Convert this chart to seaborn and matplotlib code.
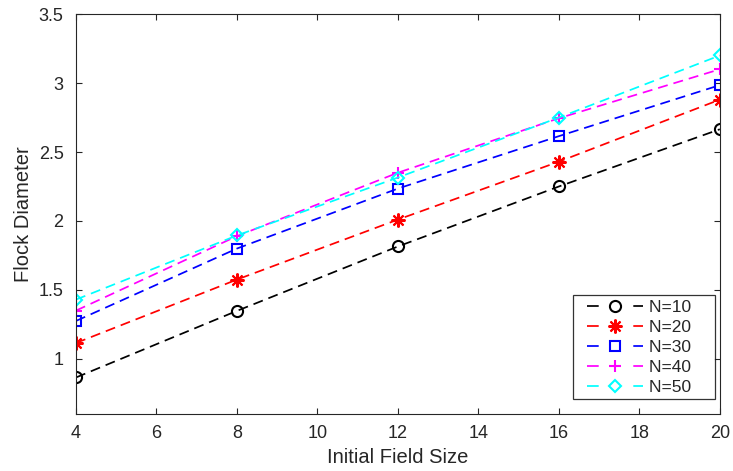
import matplotlib
matplotlib.use("Agg")
import matplotlib.pyplot as plt
from matplotlib.lines import Line2D
from matplotlib.legend_handler import HandlerLine2D
import seaborn as sns
import pandas as pd

field_size = [4, 8, 12, 16, 20]
n10 = [0.865, 1.348, 1.815, 2.25, 2.665]
n20 = [1.115, 1.575, 2.01, 2.43, 2.88]
n30 = [1.275, 1.80, 2.235, 2.615, 2.985]
n40 = [1.35, 1.89, 2.35, 2.745, 3.10]
n50 = [1.43, 1.895, 2.315, 2.75, 3.20]
labels = ["N=10", "N=20", "N=30", "N=40", "N=50"]
series = [n10, n20, n30, n40, n50]
colors = ["#000000", "#ff0000", "#0000ff", "#ff00ff", "#00ffff"]
markers = ["o", (8, 2, 0), "s", "+", "D"]
msizes = [8, 10, 6.5, 9, 6.3]

rows = []
for lab, vals in zip(labels, series):
    for x, y in zip(field_size, vals):
        rows.append({"Initial Field Size": x, "Flock Diameter": y, "N": lab})
df = pd.DataFrame(rows)

sns.set_style("white")
plt.rcParams["font.family"] = ["Liberation Sans", "DejaVu Sans"]

fig = plt.figure(figsize=(7.33, 4.71), dpi=100)
ax = fig.add_axes([0.1037, 0.121, 0.8783, 0.849])

LW = 1.25
lw_px = LW * 100 / 72
dash = (0, (10.0 / lw_px, 6.0 / lw_px))
for lab, c, m, ms in zip(labels, colors, markers, msizes):
    sub = df[df["N"] == lab]
    sns.lineplot(data=sub, x="Initial Field Size", y="Flock Diameter", ax=ax,
                 color=c, marker=m, markersize=ms, markerfacecolor="none",
                 markeredgecolor=c, markeredgewidth=1.5, linewidth=LW,
                 linestyle=dash, legend=False)

ax.set_xlim(4, 20)
ax.set_ylim(0.6, 3.5)
ax.set_xticks([4, 6, 8, 10, 12, 14, 16, 18, 20])
ax.set_yticks([1, 1.5, 2, 2.5, 3, 3.5])
ax.set_yticklabels(["1", "1.5", "2", "2.5", "3", "3.5"])
ax.set_xlabel("Initial Field Size", fontsize=14.5, color="#262626", labelpad=4)
ax.set_ylabel("Flock Diameter", fontsize=14.5, color="#262626", labelpad=4)
ax.tick_params(direction="in", length=4, width=0.8, colors="#262626",
               labelsize=13, top=True, right=True, bottom=True, left=True,
               labeltop=False, labelright=False)
ax.tick_params(axis="y", pad=9)
ax.tick_params(axis="x", pad=8)
for s in ax.spines.values():
    s.set_visible(True)
    s.set_color("#262626")
    s.set_linewidth(0.8)


class ShiftedHandler(HandlerLine2D):
    def __init__(self, shift_px=7, **kw):
        super().__init__(**kw)
        self.shift = shift_px

    def create_artists(self, legend, orig_handle, xdescent, ydescent, width,
                       height, fontsize, trans):
        return super().create_artists(legend, orig_handle,
                                      xdescent - self.shift, ydescent,
                                      width - self.shift, height, fontsize, trans)


# legend handle: dash - marker - dash (like MATLAB)
on_px, off_px = 11.7, 34.6
handles = []
for lab, c, m, ms in zip(labels, colors, markers, msizes):
    h = Line2D([], [], color=c, marker=m, markersize=ms, markerfacecolor="none",
               markeredgecolor=c, markeredgewidth=1.5, linewidth=LW,
               linestyle=(0, (on_px / lw_px, off_px / lw_px)))
    handles.append(h)

fs = 12.5
fs_px = fs * 100 / 72
leg = ax.legend(handles, [l + "    " for l in labels], loc="lower right",
                fontsize=fs, frameon=True, fancybox=False,
                edgecolor="black", handlelength=(58 + 7) / fs_px,
                borderpad=0.25, labelspacing=0.28, handletextpad=0.35,
                borderaxespad=0, bbox_to_anchor=(0.992, 0.0375),
                handler_map={Line2D: ShiftedHandler(7)})
leg.get_frame().set_linewidth(0.9)
for t in leg.get_texts():
    t.set_color("#262626")

fig.savefig("out.png", dpi=100)
